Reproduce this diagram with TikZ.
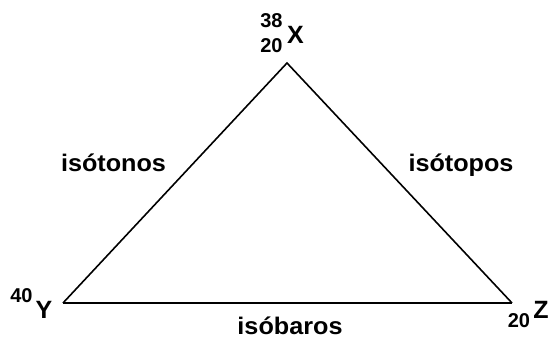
\documentclass[tikz,border=0pt]{standalone}
\usepackage{fontspec}
\setmainfont{Liberation Sans}
\begin{document}
\begin{tikzpicture}[x=1pt,y=1pt,
  lbl/.style={font=\fontsize{24}{26}\selectfont\bfseries, inner sep=0pt, anchor=base, xscale=1.05},
  num/.style={font=\fontsize{20}{22}\selectfont\bfseries, inner sep=0pt},
  elem/.style={font=\fontsize{25}{27}\selectfont\bfseries, inner sep=0pt},
  side/.style={line width=1.6pt, line join=miter},
  base/.style={line width=2.6pt}]
\useasboundingbox (0,0) rectangle (550,340);
\coordinate (A) at (287,277);
\coordinate (L) at (63,37);
\coordinate (R) at (512,37);
\draw[side] (L) -- (A) -- (R);
\draw[base] (L) -- (R);
% X
\node[num] (xa) at (271.5,319.5) {38};
\node[num] (xz) at (271.5,294.5) {20};
\node[elem] (xs) at (295.5,305) {X};
% Y
\node[num] (ya) at (21.5,44.5) {40};
\node[elem] (ys) at (44,30) {Y};
% Z
\node[num] (zz) at (519,19.5) {20};
\node[elem] (zs) at (541,30) {Z};
% labels
\node[lbl] (ton) at (113.5,168) {isótonos};
\node[lbl] (top) at (461,168) {isótopos};
\node[lbl] (bar) at (290,5) {isóbaros};
\end{tikzpicture}
\end{document}
